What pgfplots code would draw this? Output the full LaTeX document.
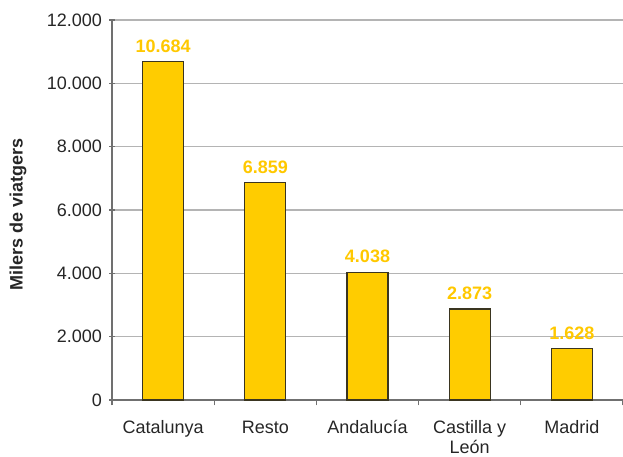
\documentclass[border=0pt]{standalone}
\usepackage{pgfplots}
\pgfplotsset{compat=1.18}
\usepackage{fontspec}
\setmainfont{Liberation Sans}
\definecolor{barfill}{HTML}{FFCC00}
\definecolor{barline}{HTML}{3A3520}
\definecolor{valtext}{HTML}{FFC800}
\definecolor{gridc}{HTML}{B4B4B4}
\definecolor{axisc}{HTML}{707070}
\definecolor{txt}{HTML}{262626}

\begin{document}
\begin{tikzpicture}
\begin{axis}[
    scale only axis,
    at={(0,0)}, anchor=south west,
    width=383.25pt, height=285pt,
    xmin=-0.5, xmax=4.5,
    ymin=0, ymax=12000,
    ytick={0,2000,...,12000},
    scaled y ticks=false,
    xtick={0,1,2,3,4},
    xticklabels={Catalunya\strut,Resto\strut,Andalucía\strut,{Castilla y\strut\\[-1pt]León},Madrid\strut},
    minor xtick={-0.5,0.5,1.5,2.5,3.5,4.5},
    major x tick style={draw=none},
    tick align=outside,
    minor tick length=4pt,
    major tick length=4pt,
    tick style={axisc, line width=0.8pt},
    axis x line=bottom, axis y line=left,
    axis line style={axisc, line width=0.9pt, -},
    ymajorgrids,
    grid style={gridc, line width=0.8pt},
    font=\fontsize{13.5}{15.75}\selectfont,
    /pgf/number format/assume math mode=true,
    /pgf/number format/.cd, 1000 sep={.}, fixed, precision=0,
    /pgfplots/.cd,
    yticklabel style={txt, xshift=-2pt},
    xticklabel style={txt, align=center, inner ysep=0pt, yshift=-10pt},
    ylabel={\bfseries Milers de viatgers},
    ylabel style={at={(axis description cs:0,0.5)}, anchor=center, yshift=70.5pt, xshift=-3.5pt, txt},
    ybar, bar width=0.4,
    nodes near coords,
    nodes near coords style={valtext, font=\fontsize{13.5}{15.75}\selectfont\bfseries, yshift=3pt},
]
\addplot[fill=barfill, draw=barline, line width=0.9pt] coordinates {
    (0,10684) (1,6859) (2,4038) (3,2873) (4,1628)
};
\end{axis}
\pgfresetboundingbox
\path[use as bounding box] (-84pt,-42pt) rectangle (383.25pt,300pt);
\end{tikzpicture}
\end{document}
